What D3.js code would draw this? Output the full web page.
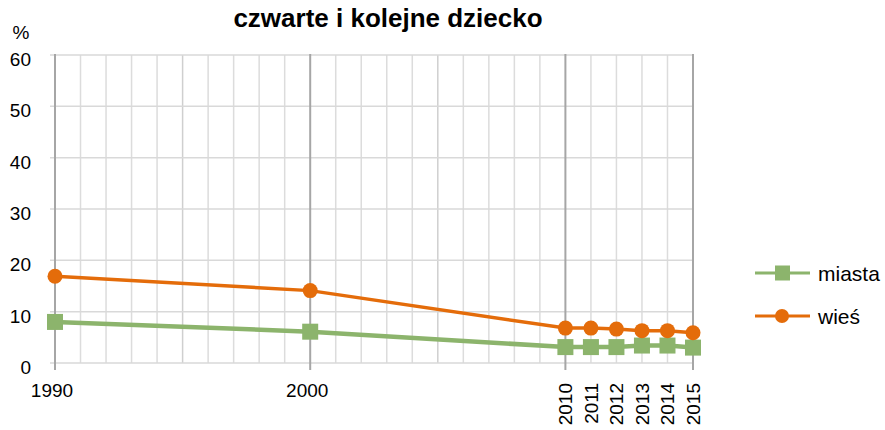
<!DOCTYPE html>
<html>
<head>
<meta charset="utf-8">
<script src="https://cdn.jsdelivr.net/npm/d3@7"></script>
<style>
  body { margin: 0; background: #fff; }
  text { font-family: "Liberation Sans", Arial, sans-serif; fill: #000; }
</style>
</head>
<body>
<div id="chart"></div>
<script>
// data
const years = [1990, 2000, 2010, 2011, 2012, 2013, 2014, 2015];
const miasta = [8.0, 6.1, 3.1, 3.1, 3.1, 3.4, 3.4, 3.0];
const wies = [16.9, 14.1, 6.8, 6.8, 6.6, 6.3, 6.3, 5.9];
const yTicks = [0, 10, 20, 30, 40, 50, 60];
const labelYears = [1990, 2000, 2010, 2011, 2012, 2013, 2014, 2015];
const majorYears = [1990, 2000, 2010, 2015];

const W = 885, H = 430;
const svg = d3.select("#chart").append("svg").attr("width", W).attr("height", H);

const x = d3.scaleLinear().domain([1990, 2015]).range([55, 693]);
const y = d3.scaleLinear().domain([0, 60]).range([363, 55]);

// title + unit
svg.append("text").attr("x", 388).attr("y", 27).attr("text-anchor", "middle")
  .style("font-size", "26px").style("font-weight", "bold").text("czwarte i kolejne dziecko");
svg.append("text").attr("x", 21).attr("y", 39).attr("text-anchor", "middle")
  .style("font-size", "19px").text("%");

// light vertical grid every year
const allYears = d3.range(1990, 2016);
svg.append("g").selectAll("line").data(allYears.filter(d => !majorYears.includes(d))).join("line")
  .attr("x1", d => x(d)).attr("x2", d => x(d)).attr("y1", y(60)).attr("y2", y(0))
  .attr("stroke", d => d % 5 === 0 ? "#cfcfcf" : "#dcdcdc").attr("stroke-width", 1.5);

// horizontal grid
svg.append("g").selectAll("line").data(yTicks).join("line")
  .attr("x1", 50).attr("x2", x(2015)).attr("y1", d => y(d)).attr("y2", d => y(d))
  .attr("stroke", "#d9d9d9").attr("stroke-width", 1.5);

// major vertical lines
svg.append("g").selectAll("line").data(majorYears).join("line")
  .attr("x1", d => x(d)).attr("x2", d => x(d)).attr("y1", y(60) - 1).attr("y2", y(0) + 7)
  .attr("stroke", "#a6a6a6").attr("stroke-width", 2);

// y labels
svg.append("g").selectAll("text").data(yTicks).join("text")
  .attr("x", 31).attr("y", d => y(d) + 11).attr("text-anchor", "end")
  .style("font-size", "19px").text(d => d);

// x labels
svg.append("g").selectAll("text").data(labelYears).join("text")
  .style("font-size", "19px")
  .attr("text-anchor", d => d < 2010 ? "middle" : "end")
  .attr("transform", d => d < 2010 ? `translate(${x(d) - 3},397)` : `translate(${x(d) + 7},383) rotate(-90)`)
  .text(d => d);

// series
const green = "#8cb46c", orange = "#e46c0a";
const line = d3.line().x((d, i) => x(years[i])).y(d => y(d));

svg.append("path").datum(miasta).attr("d", line).attr("fill", "none")
  .attr("stroke", green).attr("stroke-width", 4.5);
svg.append("g").selectAll("rect").data(miasta).join("rect")
  .attr("x", (d, i) => x(years[i]) - 8).attr("y", d => y(d) - 8)
  .attr("width", 16).attr("height", 16).attr("fill", green);

svg.append("path").datum(wies).attr("d", line).attr("fill", "none")
  .attr("stroke", orange).attr("stroke-width", 3.5);
svg.append("g").selectAll("circle").data(wies).join("circle")
  .attr("cx", (d, i) => x(years[i])).attr("cy", d => y(d)).attr("r", 7.5)
  .attr("fill", orange);

// legend
const legend = [["miasta", green, "rect", 273], ["wieś", orange, "circle", 316]];
legend.forEach(([name, col, shape, ly]) => {
  svg.append("line").attr("x1", 755).attr("x2", 810).attr("y1", ly).attr("y2", ly)
    .attr("stroke", col).attr("stroke-width", 3);
  if (shape === "rect") {
    svg.append("rect").attr("x", 775).attr("y", ly - 7.5).attr("width", 15).attr("height", 15).attr("fill", col);
  } else {
    svg.append("circle").attr("cx", 782).attr("cy", ly).attr("r", 7).attr("fill", col);
  }
  svg.append("text").attr("x", 818).attr("y", ly + 8).style("font-size", "21px").text(name);
});
</script>
</body>
</html>
